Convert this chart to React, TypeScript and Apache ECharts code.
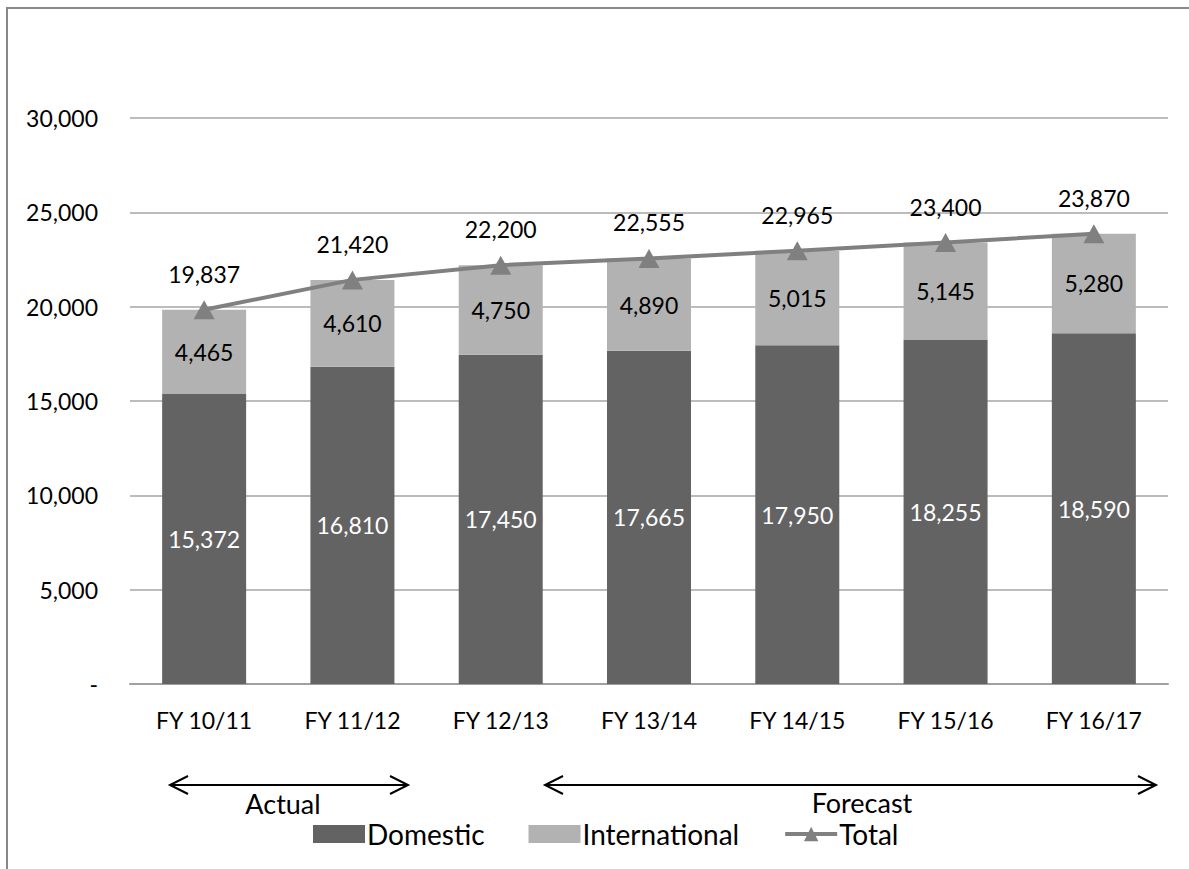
import React, { useEffect, useRef } from "react";
import * as echarts from "echarts";

const categories = ["FY 10/11", "FY 11/12", "FY 12/13", "FY 13/14", "FY 14/15", "FY 15/16", "FY 16/17"];
const domestic = [15372, 16810, 17450, 17665, 17950, 18255, 18590];
const international = [4465, 4610, 4750, 4890, 5015, 5145, 5280];
const total = [19837, 21420, 22200, 22555, 22965, 23400, 23870];
const yMin = 0;
const yMax = 30000;
const yInterval = 5000;

const FONT = "Lato";
const FS = 23;
const fmt = (v: number) => (v === 0 ? "-" : v.toLocaleString("en-US"));

function arrow(x1: number, x2: number, y: number) {
  const head = 18;
  const half = 9;
  const st = { stroke: "#000", lineWidth: 2, fill: null };
  return [
    { type: "line", shape: { x1, y1: y, x2, y2: y }, style: st },
    { type: "polyline", shape: { points: [[x1 + head, y - half], [x1, y], [x1 + head, y + half]] }, style: st },
    { type: "polyline", shape: { points: [[x2 - head, y - half], [x2, y], [x2 - head, y + half]] }, style: st },
  ];
}

export default function App() {
  const ref = useRef<HTMLDivElement>(null);
  useEffect(() => {
    if (!ref.current) return;
    const chart = echarts.init(ref.current, null, { renderer: "svg" });
    chart.setOption({
      animation: false,
      backgroundColor: "#fff",
      textStyle: { fontFamily: FONT },
      grid: { left: 130, right: 21, top: 118, bottom: 185, containLabel: false },
      legend: {
        left: 308,
        top: 815,
        itemWidth: 52,
        itemHeight: 18,
        itemGap: 44,
        textStyle: { fontSize: 28, color: "#000", fontFamily: FONT, padding: [0, 0, 0, -3] },
        data: [
          { name: "Domestic", icon: "rect" },
          { name: "International", icon: "rect" },
          { name: "Total", lineStyle: { width: 4, color: "#808080" }, itemStyle: { color: "#808080" } },
        ],
      },
      xAxis: {
        type: "category",
        data: categories,
        axisTick: { show: false },
        axisLine: { lineStyle: { color: "#a0a0a0", width: 2 } },
        axisLabel: { fontSize: FS, color: "#000", margin: 24, fontFamily: FONT },
      },
      yAxis: {
        type: "value",
        min: yMin,
        max: yMax,
        interval: yInterval,
        axisLine: { show: false },
        axisTick: { show: false },
        splitLine: { lineStyle: { color: "#a6a6a6", width: 1.5 } },
        axisLabel: { fontSize: FS, color: "#000", margin: 32, formatter: fmt, fontFamily: FONT },
      },
      series: [
        {
          name: "Domestic",
          type: "bar",
          stack: "s",
          data: domestic,
          barWidth: 84,
          itemStyle: { color: "#636363" },
          label: { show: true, position: "inside", color: "#fff", fontSize: FS, fontFamily: FONT, formatter: (p: any) => fmt(p.value) },
        },
        {
          name: "International",
          type: "bar",
          stack: "s",
          data: international,
          barWidth: 84,
          itemStyle: { color: "#b2b2b2" },
          label: { show: true, position: "inside", color: "#000", fontSize: FS, fontFamily: FONT, formatter: (p: any) => fmt(p.value) },
        },
        {
          name: "Total",
          type: "line",
          data: total,
          symbol: "triangle",
          symbolSize: [21, 19],
          lineStyle: { color: "#808080", width: 4 },
          itemStyle: { color: "#808080" },
          label: { show: true, position: "top", distance: 15, color: "#000", fontSize: FS, fontFamily: FONT, formatter: (p: any) => fmt(p.value) },
          z: 5,
        },
      ],
      graphic: [
        { type: "line", shape: { x1: 7, y1: 8, x2: 1189, y2: 8 }, style: { stroke: "#888", lineWidth: 2 } },
        { type: "line", shape: { x1: 7, y1: 7, x2: 7, y2: 869 }, style: { stroke: "#888", lineWidth: 2 } },
        ...arrow(170, 408, 785),
        ...arrow(545, 1156, 785),
        { type: "text", x: 283, y: 803, style: { text: "Actual", fontSize: 27, fontFamily: FONT, fill: "#000", align: "center", verticalAlign: "middle" } },
        { type: "text", x: 862, y: 802, style: { text: "Forecast", fontSize: 27, fontFamily: FONT, fill: "#000", align: "center", verticalAlign: "middle" } },
      ],
    });
    return () => chart.dispose();
  }, []);
  return <div ref={ref} style={{ position: "fixed", left: 0, top: 0, width: 1189, height: 869 }} />;
}
